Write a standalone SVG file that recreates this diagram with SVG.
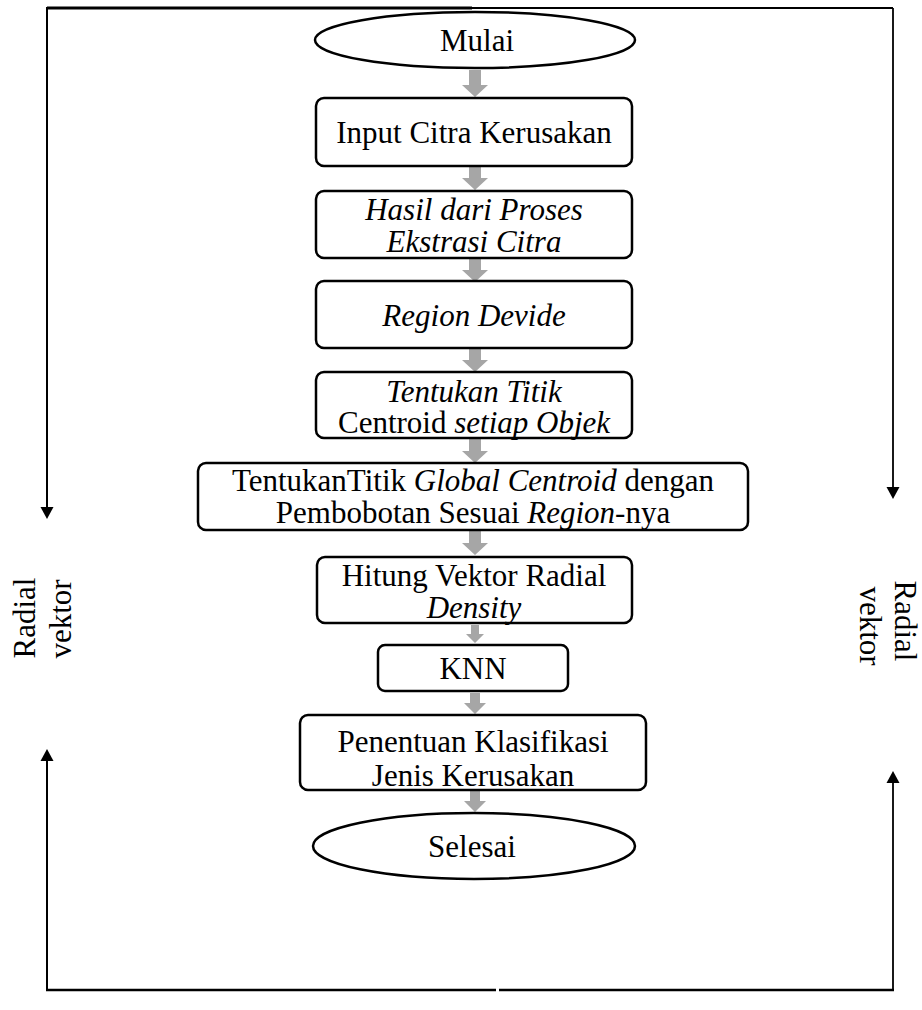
<svg xmlns="http://www.w3.org/2000/svg" width="922" height="1010" viewBox="0 0 922 1010">
<style>
.box{fill:#fff;stroke:#000;stroke-width:2.5}
.t{font-family:"Liberation Serif","Times New Roman",serif;font-size:31px;fill:#000;text-anchor:middle}
.i{font-style:italic}
.ga{fill:#a6a6a6;stroke:none}
.ln{stroke:#000;fill:none}
</style>
<rect width="922" height="1010" fill="#fff"/>
<g id="connectors">
<line class="ln" x1="47" y1="8" x2="472" y2="8" stroke-width="3"/>
<line class="ln" x1="472" y1="8" x2="893" y2="8" stroke-width="2"/>
<line class="ln" x1="47" y1="7" x2="47" y2="507" stroke-width="2"/>
<path d="M40.5,507 L53.5,507 L47,519 z" fill="#000"/>
<line class="ln" x1="893" y1="8" x2="893" y2="487" stroke-width="1.8"/>
<path d="M886.5,487 L899.5,487 L893,499 z" fill="#000"/>
<line class="ln" x1="47" y1="991" x2="47" y2="761" stroke-width="2"/>
<path d="M40.5,761 L53.5,761 L47,749 z" fill="#000"/>
<line class="ln" x1="893" y1="991" x2="893" y2="783" stroke-width="1.8"/>
<path d="M886.5,783 L899.5,783 L893,771 z" fill="#000"/>
<line class="ln" x1="46" y1="990" x2="496" y2="990" stroke-width="2.5"/>
<line class="ln" x1="499" y1="990" x2="894" y2="990" stroke-width="2.5"/>
<path class="ga" d="M469,70 h12 v15 h7 l-13,12 l-13,-12 h7 z"/>
<path class="ga" d="M469,167 h12 v11 h7 l-13,12 l-13,-12 h7 z"/>
<path class="ga" d="M469,259 h12 v11 h7 l-13,12 l-13,-12 h7 z"/>
<path class="ga" d="M469,349 h12 v11 h7 l-13,12 l-13,-12 h7 z"/>
<path class="ga" d="M469,439 h12 v12 h7 l-13,12 l-13,-12 h7 z"/>
<path class="ga" d="M469,531 h12 v12 h7 l-13,12 l-13,-12 h7 z"/>
<path class="ga" d="M471,625 h8 v9 h5 l-9,9 l-9,-9 h5 z"/>
<path class="ga" d="M470,693 h10 v10 h6 l-11,11 l-11,-11 h6 z"/>
<path class="ga" d="M470,791 h10 v10 h6 l-11,11 l-11,-11 h6 z"/>
</g>
<g id="n-mulai">
<ellipse class="box" cx="475" cy="40" rx="160" ry="28"/>
<text class="t" x="477" y="51">Mulai</text>
</g>
<g id="n-input">
<rect class="box" x="316" y="98" width="316" height="68" rx="8"/>
<text class="t" x="474" y="143">Input Citra Kerusakan</text>
</g>
<g id="n-hasil">
<rect class="box" x="316" y="191" width="316" height="67" rx="8"/>
<text class="t i" x="474" y="220">Hasil dari Proses</text>
<text class="t i" x="474" y="252">Ekstrasi Citra</text>
</g>
<g id="n-region">
<rect class="box" x="316" y="281" width="316" height="67" rx="8"/>
<text class="t i" x="474" y="326">Region Devide</text>
</g>
<g id="n-centroid">
<rect class="box" x="316" y="372" width="316" height="66" rx="8"/>
<text class="t i" x="474" y="402">Tentukan Titik</text>
<text class="t" x="474" y="433">Centroid <tspan class="i">setiap Objek</tspan></text>
</g>
<g id="n-global">
<rect class="box" x="198" y="463" width="550" height="67" rx="8"/>
<text class="t" x="473" y="491">TentukanTitik <tspan class="i">Global Centroid</tspan> dengan</text>
<text class="t" x="473" y="523">Pembobotan Sesuai <tspan class="i">Region</tspan>-nya</text>
</g>
<g id="n-hitung">
<rect class="box" x="317" y="557" width="315" height="66" rx="8"/>
<text class="t" x="474" y="586">Hitung Vektor Radial</text>
<text class="t i" x="474" y="618">Density</text>
</g>
<g id="n-knn">
<rect class="box" x="378" y="645" width="190" height="46" rx="7"/>
<text class="t" x="473" y="679">KNN</text>
</g>
<g id="n-klasifikasi">
<rect class="box" x="300" y="715" width="346" height="75" rx="8"/>
<text class="t" x="473" y="752">Penentuan Klasifikasi</text>
<text class="t" x="473" y="786">Jenis Kerusakan</text>
</g>
<g id="n-selesai">
<ellipse class="box" cx="474" cy="846" rx="161" ry="33"/>
<text class="t" x="472" y="857">Selesai</text>
</g>
<g id="label-left">
<text class="t" transform="translate(35,618) rotate(-90)" x="0" y="0">Radial</text>
<text class="t" transform="translate(71,619) rotate(-90)" x="0" y="0">vektor</text>
</g>
<g id="label-right">
<text class="t" transform="translate(895,621) rotate(90)" x="0" y="0">Radial</text>
<text class="t" transform="translate(860,626) rotate(90)" x="0" y="0">vektor</text>
</g>
</svg>
